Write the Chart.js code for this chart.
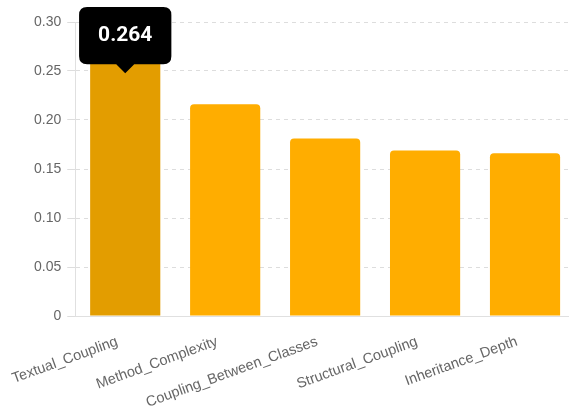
<!DOCTYPE html>
<html>
<head>
<meta charset="utf-8">
<script src="https://cdn.jsdelivr.net/npm/chart.js@4"></script>
<style>
  html, body { margin: 0; padding: 0; background: #fff; overflow: hidden; }
  #wrap { width: 582px; height: 406px; }
</style>
</head>
<body>
<div id="wrap"><canvas id="chartBar"></canvas></div>
<script>
var categories = ["Textual_Coupling", "Method_Complexity", "Coupling_Between_Classes", "Structural_Coupling", "Inheritance_Depth"];
var importance = [0.264, 0.216, 0.181, 0.169, 0.166];
var yTicks = [0, 0.05, 0.10, 0.15, 0.20, 0.25, 0.30];

Chart.Tooltip.positioners.lowered = function (items) {
    var p = Chart.Tooltip.positioners.average.call(this, items);
    if (!p) return p;
    return { x: p.x, y: p.y + 16 };
};

var ourBar = document.getElementById("chartBar");

var barChart = new Chart(ourBar, {
    type: 'bar',
    data: {
        labels: categories,
        datasets: [
            {
                label: 'Importance',
                data: importance,
                backgroundColor: '#ffad00',
                hoverBackgroundColor: '#e39d00',
                borderRadius: 4,
                borderSkipped: 'bottom',
                barPercentage: 0.78,
                categoryPercentage: 0.9
            }
        ]
    },
    options: {
        responsive: true,
        maintainAspectRatio: false,
        animation: false,
        layout: {
            padding: { left: 28, right: 7, top: 22, bottom: 0 }
        },
        plugins: {
            legend: { display: false },
            tooltip: {
                position: 'lowered',
                yAlign: 'bottom',
                xAlign: 'center',
                backgroundColor: '#000',
                displayColors: false,
                cornerRadius: 8,
                caretSize: 9,
                caretPadding: 0,
                padding: { x: 19, y: 16 },
                bodyFont: { family: 'Roboto, "Liberation Sans", Arial', size: 21, weight: 'bold' },
                bodyColor: '#fff',
                callbacks: {
                    title: function () { return ''; },
                    label: function (ctx) { return ctx.parsed.y.toFixed(3); }
                }
            }
        },
        scales: {
            x: {
                grid: { display: false, drawTicks: false },
                border: { display: true, color: '#e0e0e0' },
                afterFit: function (scale) {
                    scale.height = 90;
                    scale.paddingLeft = 0;
                    scale.paddingRight = 0;
                },
                ticks: {
                    minRotation: 20,
                    maxRotation: 20,
                    color: '#666',
                    padding: 17,
                    labelOffset: -8,
                    font: { family: '"Liberation Sans", Arial', size: 14.5 }
                }
            },
            y: {
                min: 0,
                max: 0.3,
                afterBuildTicks: function (axis) {
                    axis.ticks = yTicks.map(function (v) { return { value: v }; });
                },
                grid: {
                    color: '#dddddd',
                    tickColor: '#dddddd',
                    tickLength: 8,
                    drawOnChartArea: true
                },
                border: { display: true, color: '#e0e0e0', dash: [4, 4] },
                ticks: {
                    color: '#666',
                    padding: 6,
                    font: { family: '"Liberation Sans", Arial', size: 14 },
                    callback: function (v) { return v === 0 ? '0' : v.toFixed(2); }
                }
            }
        }
    }
});

barChart.setActiveElements([{ datasetIndex: 0, index: 0 }]);
barChart.tooltip.setActiveElements([{ datasetIndex: 0, index: 0 }], { x: 0, y: 0 });
barChart.update();
</script>
</body>
</html>
